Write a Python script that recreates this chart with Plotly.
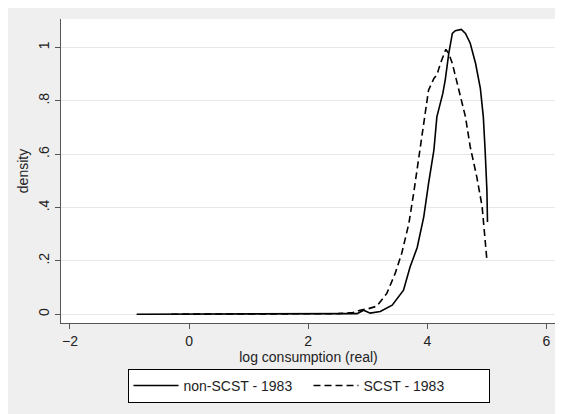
import plotly.graph_objects as go

# non-SCST - 1983 (solid)
x_non = [-0.88, 0.0, 1.0, 2.0, 2.6, 2.82, 2.93, 3.04, 3.21, 3.41, 3.60, 3.71, 3.83, 3.94, 4.02, 4.11,
         4.16, 4.26, 4.30, 4.36, 4.42, 4.47, 4.57, 4.64, 4.72, 4.81, 4.89, 4.94, 4.97, 5.00, 5.01]
y_non = [0.0, 0.0, 0.0, 0.0, 0.0, 0.002, 0.015, 0.004, 0.01, 0.034, 0.09, 0.177, 0.25, 0.365, 0.49, 0.615,
         0.74, 0.828, 0.878, 0.978, 1.053, 1.063, 1.068, 1.053, 1.016, 0.94, 0.847, 0.74, 0.615, 0.465, 0.346]

# SCST - 1983 (dashed)
x_sc = [-0.3, 1.0, 2.0, 2.5, 2.75, 2.87, 3.0, 3.15, 3.32, 3.46, 3.57, 3.69, 3.77, 3.85, 3.94, 4.02, 4.11,
        4.16, 4.22, 4.31, 4.36, 4.42, 4.53, 4.64, 4.72, 4.83, 4.92, 5.00]
y_sc = [0.0, 0.0, 0.0, 0.002, 0.006, 0.015, 0.02, 0.03, 0.078, 0.153, 0.228, 0.34, 0.453, 0.578, 0.703, 0.84, 0.884,
        0.897, 0.94, 0.993, 0.978, 0.94, 0.84, 0.74, 0.628, 0.515, 0.403, 0.203]

x_ticks = [-2, 0, 2, 4, 6]
y_ticks = [0, 0.2, 0.4, 0.6, 0.8, 1]
y_ticktext = ["0", ".2", ".4", ".6", ".8", "1"]

fig = go.Figure()
fig.add_trace(go.Scatter(x=x_non, y=y_non, mode="lines", name="non-SCST - 1983",
                         line=dict(color="black", width=1.6)))
fig.add_trace(go.Scatter(x=x_sc, y=y_sc, mode="lines", name="SCST - 1983",
                         line=dict(color="black", width=1.6, dash="7px,4px")))

FAM = "Liberation Sans, Arial, sans-serif"
font = dict(family=FAM, size=14, color="#222")

fig.update_layout(
    width=555, height=406,
    autosize=False,
    margin=dict(l=53, r=7, t=11, b=91, autoexpand=False),
    paper_bgcolor="#efefef",
    plot_bgcolor="white",
    font=font,
    showlegend=True,
    legend=dict(orientation="h", x=0.5, xanchor="center", y=-0.151, yanchor="top",
                bordercolor="black", borderwidth=1, bgcolor="white",
                font=dict(family=FAM, size=14, color="#222"),
                entrywidth=120, itemwidth=45, tracegroupgap=0),
    xaxis=dict(range=[-2.15, 6.16], tickvals=x_ticks, ticks="outside", ticklen=5,
               tickcolor="#555", showgrid=False, zeroline=False, showline=True,
               linecolor="#555", linewidth=1, automargin=False, tickfont=dict(family=FAM, size=14),
               title=dict(text="log consumption (real)", standoff=0, font=dict(family=FAM, size=14))),
    yaxis=dict(range=[-0.033, 1.107], tickvals=y_ticks, ticktext=y_ticktext, tickangle=-90,
               ticks="outside", ticklen=5, tickcolor="#555", showgrid=True, gridcolor="#e8e8e8",
               gridwidth=1, zeroline=False, showline=True, linecolor="#555", linewidth=1,
               automargin=False, tickfont=dict(family=FAM, size=14),
               title=dict(text="density", standoff=4, font=dict(family=FAM, size=14))),
)

fig.write_html("out.html")
